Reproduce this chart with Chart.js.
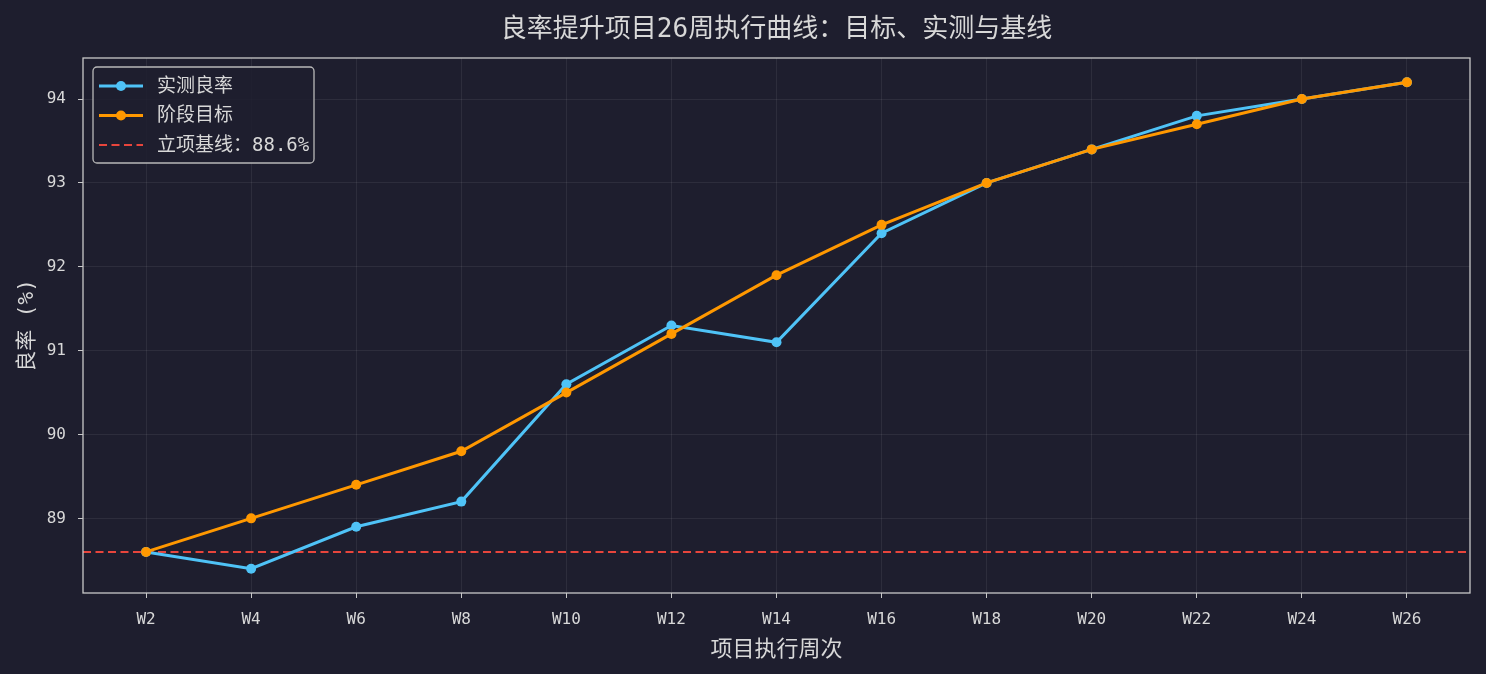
<!DOCTYPE html>
<html><head><meta charset="utf-8">
<script src="https://cdn.jsdelivr.net/npm/chart.js@4.4.1/dist/chart.umd.min.js"></script>
<style>html,body{margin:0;padding:0;background:#1e1e2e;}#wrap{width:1486px;height:674px;}</style>
</head><body><div id="wrap"><canvas id="c" width="1486" height="674"></canvas></div>
<script>
const weeks = ['W2','W4','W6','W8','W10','W12','W14','W16','W18','W20','W22','W24','W26'];
const actual = [88.6,88.4,88.9,89.2,90.6,91.3,91.1,92.4,93.0,93.4,93.8,94.0,94.2];
const target = [88.6,89.0,89.4,89.8,90.5,91.2,91.9,92.5,93.0,93.4,93.7,94.0,94.2];
const baseline = 88.6;
const yTicks = [89,90,91,92,93,94];
const seriesNames = ['实测良率','阶段目标'];
const baselineLabel = '立项基线：88.6%';

const BG='#1e1e2e', BLUE='#4fc3f7', ORANGE='#ff9800', RED='#e8453c', FG='#d8d8d8', GRID='rgba(255,255,255,0.07)', SPINE='#c8c8c8';
const FONT='"DejaVu Sans Mono","Noto Sans CJK SC",sans-serif';

const allVals = actual.concat(target);
const dmin = Math.min(...allVals), dmax = Math.max(...allVals);
const pad = (dmax-dmin)*0.05;

const overlay = {
  id:'overlay',
  beforeDraw(chart){
    const {ctx,width,height}=chart;
    ctx.save();ctx.fillStyle=BG;ctx.fillRect(0,0,width,height);ctx.restore();
  },
  beforeDatasetsDraw(chart){
    const {ctx,chartArea:a,scales:{y}}=chart;
    const py=y.getPixelForValue(baseline);
    ctx.save();ctx.strokeStyle=RED;ctx.lineWidth=2;ctx.setLineDash([8,4.5]);
    ctx.beginPath();ctx.moveTo(a.left,py);ctx.lineTo(a.right,py);ctx.stroke();ctx.restore();
  },
  afterDraw(chart){
    const {ctx,chartArea:a}=chart;
    ctx.save();
    ctx.strokeStyle=SPINE;ctx.lineWidth=1.3;
    ctx.strokeRect(a.left,a.top,a.right-a.left,a.bottom-a.top);
    // legend
    const lx=a.left+10, ly=a.top+9, lw=221, lh=96;
    ctx.beginPath();
    if(ctx.roundRect){ctx.roundRect(lx,ly,lw,lh,4);}else{ctx.rect(lx,ly,lw,lh);}
    ctx.fillStyle='rgba(30,30,46,0.85)';ctx.fill();
    ctx.strokeStyle='#b8b8b8';ctx.lineWidth=1.3;ctx.stroke();
    const rows=[{c:BLUE,t:seriesNames[0],m:true},{c:ORANGE,t:seriesNames[1],m:true},{c:RED,t:baselineLabel,m:false}];
    ctx.font='19px '+FONT;ctx.textBaseline='middle';
    rows.forEach((r,i)=>{
      const yy=ly+19+i*29.5;
      ctx.strokeStyle=r.c;ctx.lineWidth=r.m?3:2;
      ctx.setLineDash(r.m?[]:[8,4.5]);
      ctx.beginPath();ctx.moveTo(lx+6,yy);ctx.lineTo(lx+50,yy);ctx.stroke();
      ctx.setLineDash([]);
      if(r.m){ctx.fillStyle=r.c;ctx.beginPath();ctx.arc(lx+28,yy,5,0,Math.PI*2);ctx.fill();}
      ctx.fillStyle=FG;ctx.fillText(r.t,lx+64,yy+1);
    });
    ctx.restore();
  }
};

new Chart(document.getElementById('c'),{
  type:'line',
  data:{datasets:[
    {label:seriesNames[0],order:1,data:actual.map((v,i)=>({x:i,y:v})),borderColor:BLUE,backgroundColor:BLUE,borderWidth:3,pointRadius:5,pointBackgroundColor:BLUE,pointBorderWidth:0,tension:0},
    {label:seriesNames[1],order:0,data:target.map((v,i)=>({x:i,y:v})),borderColor:ORANGE,backgroundColor:ORANGE,borderWidth:3,pointRadius:5,pointBackgroundColor:ORANGE,pointBorderWidth:0,tension:0}
  ]},
  options:{
    responsive:false,animation:false,devicePixelRatio:1,
    layout:{padding:{left:0,right:16,top:0,bottom:0}},
    plugins:{
      legend:{display:false},tooltip:{enabled:false},
      title:{display:true,fullSize:false,text:'良率提升项目26周执行曲线：目标、实测与基线',color:FG,font:{family:FONT,size:26,weight:'normal'},padding:{top:15,bottom:11.8}}
    },
    scales:{
      x:{type:'linear',min:-0.6,max:weeks.length-1+0.6,
        afterBuildTicks(s){s.ticks=weeks.map((w,i)=>({value:i}));},
        afterFit(s){s.height=81;},
        ticks:{color:FG,font:{family:FONT,size:16},padding:12,callback:(v)=>weeks[v],maxRotation:0,autoSkip:false},
        grid:{color:GRID,tickColor:SPINE,tickLength:5,lineWidth:1},
        border:{display:false},
        title:{display:true,text:'项目执行周次',color:FG,font:{family:FONT,size:22},padding:{top:0,bottom:10.8}}
      },
      y:{min:dmin-pad,max:dmax+pad,
        afterBuildTicks(s){s.ticks=yTicks.map(v=>({value:v}));},
        afterFit(s){s.width=83;},
        ticks:{color:FG,font:{family:FONT,size:16},padding:12},
        grid:{color:GRID,tickColor:SPINE,tickLength:5,lineWidth:1},
        border:{display:false},
        title:{display:true,text:'良率 (%)',color:FG,font:{family:FONT,size:21},padding:{top:14.5,bottom:0}}
      }
    }
  },
  plugins:[overlay]
});
</script></body></html>
